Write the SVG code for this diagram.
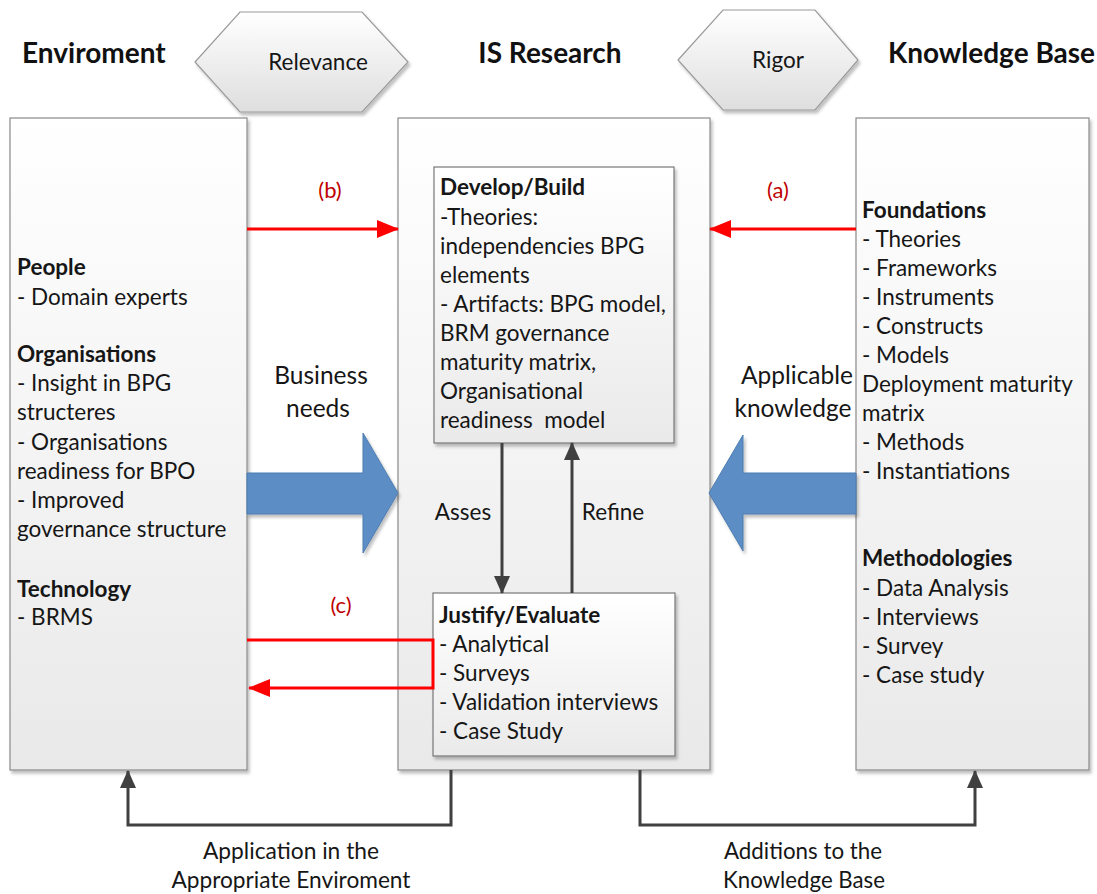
<svg xmlns="http://www.w3.org/2000/svg" width="1097" height="894" viewBox="0 0 1097 894">
  <defs>
    <linearGradient id="panelFill" x1="0" y1="0" x2="0" y2="1">
      <stop offset="0" stop-color="#ffffff"/>
      <stop offset="1" stop-color="#e9e9e9"/>
    </linearGradient>
    <linearGradient id="cardFill" x1="0" y1="0" x2="0" y2="1">
      <stop offset="0" stop-color="#ffffff"/>
      <stop offset="1" stop-color="#eaeaea"/>
    </linearGradient>
    <linearGradient id="hexFill" x1="0" y1="0" x2="0" y2="1">
      <stop offset="0" stop-color="#ffffff"/>
      <stop offset="1" stop-color="#dedede"/>
    </linearGradient>
    <filter id="shadow" x="-10%" y="-10%" width="120%" height="120%">
      <feDropShadow dx="2" dy="3" stdDeviation="1.5" flood-color="#000" flood-opacity="0.25"/>
    </filter>
    <marker id="redHead" markerUnits="userSpaceOnUse" markerWidth="22" markerHeight="18" refX="21" refY="9" orient="auto">
      <path d="M0,0 L22,9 L0,18 Z" fill="#ff0000"/>
    </marker>
    <marker id="grayHead" markerUnits="userSpaceOnUse" markerWidth="18" markerHeight="16" refX="17" refY="8" orient="auto">
      <path d="M0,0 L18,8 L0,16 Z" fill="#404040"/>
    </marker>
    <style>
      .panel { fill: url(#panelFill); stroke: #8a8a8a; stroke-width: 1.2; filter: url(#shadow); }
      .card { fill: url(#cardFill); stroke: #777; stroke-width: 1.2; filter: url(#shadow); }
      .hex { fill: url(#hexFill); stroke: #9a9a9a; stroke-width: 1.2; filter: url(#shadow); }
      .txt { font-family: Lato, "Liberation Sans", sans-serif; font-size: 22.5px; fill: #161616; }
      .b { font-weight: bold; }
      .head { font-family: Lato, "Liberation Sans", sans-serif; font-size: 28px; font-weight: bold; fill: #111; }
      .big { font-family: Lato, "Liberation Sans", sans-serif; font-size: 24.5px; fill: #161616; }
      .red { font-family: Lato, "Liberation Sans", sans-serif; font-size: 22px; fill: #c00000; }
      .foot { font-family: Lato, "Liberation Sans", sans-serif; font-size: 23px; fill: #161616; }
      .redline { fill: none; stroke: #ff0000; stroke-width: 3; }
      .grayline { fill: none; stroke: #404040; stroke-width: 3; }
      .blue { fill: #5b8ec5; stroke: #4d7db0; stroke-width: 1; filter: url(#shadow); }
    </style>
  </defs>

  <rect width="1097" height="894" fill="#ffffff"/>

  <!-- column headings -->
  <g id="headings">
    <text class="head" x="22" y="63">Enviroment</text>
    <text class="head" x="550" y="63" text-anchor="middle">IS Research</text>
    <text class="head" x="888" y="63">Knowledge Base</text>
  </g>

  <!-- hexagon tags -->
  <g id="relevance">
    <polygon class="hex" points="195,62 240,12 362,12 408,62 362,112 240,112"/>
    <text class="txt" x="318" y="70" text-anchor="middle">Relevance</text>
  </g>
  <g id="rigor">
    <polygon class="hex" points="678,60 723,10 815,10 858,60 815,110 723,110"/>
    <text class="txt" x="778" y="68" text-anchor="middle">Rigor</text>
  </g>

  <!-- environment panel -->
  <g id="environment">
    <rect class="panel" x="10" y="118" width="237" height="652"/>
    <text class="txt">
      <tspan class="b" x="17" y="275">People</tspan>
      <tspan x="17" y="305">- Domain experts</tspan>
      <tspan class="b" x="17" y="362">Organisations</tspan>
      <tspan x="17" y="391">- Insight in BPG</tspan>
      <tspan x="17" y="420">structeres</tspan>
      <tspan x="17" y="450">- Organisations</tspan>
      <tspan x="17" y="479">readiness for BPO</tspan>
      <tspan x="17" y="508">- Improved</tspan>
      <tspan x="17" y="537">governance structure</tspan>
      <tspan class="b" x="17" y="597">Technology</tspan>
      <tspan x="17" y="625">- BRMS</tspan>
    </text>
  </g>

  <!-- IS research panel -->
  <g id="is-research">
    <rect class="panel" x="398" y="118" width="312" height="652"/>
  </g>

  <!-- knowledge base panel -->
  <g id="knowledge-base">
    <rect class="panel" x="856" y="118" width="233" height="652"/>
    <text class="txt">
      <tspan class="b" x="862" y="218">Foundations</tspan>
      <tspan x="862" y="247">- Theories</tspan>
      <tspan x="862" y="276">- Frameworks</tspan>
      <tspan x="862" y="305">- Instruments</tspan>
      <tspan x="862" y="334">- Constructs</tspan>
      <tspan x="862" y="363">- Models</tspan>
      <tspan x="862" y="392">Deployment maturity</tspan>
      <tspan x="862" y="421">matrix</tspan>
      <tspan x="862" y="450">- Methods</tspan>
      <tspan x="862" y="479">- Instantiations</tspan>
      <tspan class="b" x="862" y="566">Methodologies</tspan>
      <tspan x="862" y="596">- Data Analysis</tspan>
      <tspan x="862" y="625">- Interviews</tspan>
      <tspan x="862" y="654">- Survey</tspan>
      <tspan x="862" y="683">- Case study</tspan>
    </text>
  </g>

  <!-- develop / build -->
  <g id="develop-build">
    <rect class="card" x="434" y="167" width="240" height="276"/>
    <text class="txt">
      <tspan class="b" x="440" y="195">Develop/Build</tspan>
      <tspan x="440" y="225">-Theories:</tspan>
      <tspan x="440" y="254">independencies BPG</tspan>
      <tspan x="440" y="283">elements</tspan>
      <tspan x="440" y="312">- Artifacts: BPG model,</tspan>
      <tspan x="440" y="341">BRM governance</tspan>
      <tspan x="440" y="370">maturity matrix,</tspan>
      <tspan x="440" y="399">Organisational</tspan>
      <tspan x="440" y="428" xml:space="preserve">readiness  model</tspan>
    </text>
  </g>

  <!-- justify / evaluate -->
  <g id="justify-evaluate">
    <rect class="card" x="433" y="593" width="242" height="163"/>
    <text class="txt">
      <tspan class="b" x="439" y="623">Justify/Evaluate</tspan>
      <tspan x="439" y="652">- Analytical</tspan>
      <tspan x="439" y="681">- Surveys</tspan>
      <tspan x="439" y="710">- Validation interviews</tspan>
      <tspan x="439" y="739">- Case Study</tspan>
    </text>
  </g>

  <!-- connectors -->
  <g id="connectors">
    <!-- red flows -->
    <line class="redline" x1="247" y1="229" x2="398" y2="229" marker-end="url(#redHead)"/>
    <line class="redline" x1="856" y1="229" x2="710" y2="229" marker-end="url(#redHead)"/>
    <path class="redline" d="M247,640 H433 V688 H249" marker-end="url(#redHead)"/>
    <text class="red" x="330" y="198" text-anchor="middle">(b)</text>
    <text class="red" x="778" y="198" text-anchor="middle">(a)</text>
    <text class="red" x="341" y="613" text-anchor="middle">(c)</text>

    <!-- block arrows -->
    <polygon class="blue" points="247,473 363,473 363,433 398,493 363,553 363,514 247,514"/>
    <polygon class="blue" points="856,473 743,473 743,435 709,493 743,551 743,514 856,514"/>
    <text class="big" x="321" y="384" text-anchor="middle">Business</text>
    <text class="big" x="318" y="417" text-anchor="middle">needs</text>
    <text class="big" x="797" y="384" text-anchor="middle">Applicable</text>
    <text class="big" x="793" y="417" text-anchor="middle">knowledge</text>

    <!-- assess / refine loop -->
    <line class="grayline" x1="502" y1="443" x2="502" y2="593" marker-end="url(#grayHead)"/>
    <line class="grayline" x1="572" y1="593" x2="572" y2="443" marker-end="url(#grayHead)"/>
    <text class="txt" x="463" y="520" text-anchor="middle">Asses</text>
    <text class="txt" x="613" y="520" text-anchor="middle">Refine</text>

    <!-- outputs back to environment and knowledge base -->
    <path class="grayline" d="M451,770 V825 H128 V771" marker-end="url(#grayHead)"/>
    <path class="grayline" d="M640,770 V825 H975 V771" marker-end="url(#grayHead)"/>
    <text class="foot" x="291" y="859" text-anchor="middle" textLength="176" lengthAdjust="spacingAndGlyphs">Application in the</text>
    <text class="foot" x="291" y="888" text-anchor="middle" textLength="239" lengthAdjust="spacingAndGlyphs">Appropriate Enviroment</text>
    <text class="foot" x="803" y="859" text-anchor="middle" textLength="158" lengthAdjust="spacingAndGlyphs">Additions to the</text>
    <text class="foot" x="804" y="888" text-anchor="middle" textLength="162" lengthAdjust="spacingAndGlyphs">Knowledge Base</text>
  </g>
</svg>
